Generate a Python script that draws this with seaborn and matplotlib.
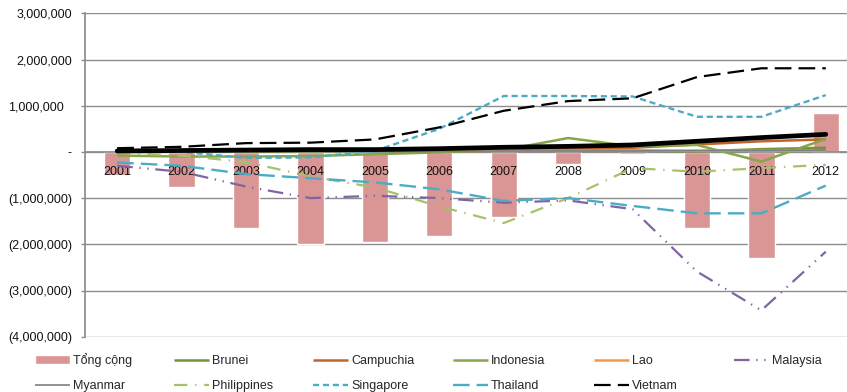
import numpy as np
import pandas as pd
import matplotlib
matplotlib.use("Agg")
import matplotlib.pyplot as plt
import seaborn as sns
from matplotlib.ticker import FixedLocator, FuncFormatter

# ---- data (trade balance by partner, 2001-2012) ----
years = [str(y) for y in range(2001, 2013)]
tong_cong = [-500000, -760000, -1640000, -2000000, -1950000, -1820000,
             -1410000, -260000, -50000, -1650000, -2300000, 840000]
brunei = [10000, 10000, 10000, 10000, 20000, 20000,
          30000, 40000, 30000, 10000, 60000, 90000]
campuchia = [20000, 30000, 30000, 40000, 40000, 50000,
             60000, 70000, 90000, 160000, 230000, 270000]
indonesia = [-80000, -100000, -100000, -90000, -50000, -10000,
             40000, 300000, 120000, 150000, -210000, 280000]
lao = [20000, 20000, 25000, 25000, 25000, 25000,
       25000, 25000, 25000, 25000, 25000, 30000]
malaysia = [-300000, -430000, -750000, -1000000, -950000, -1000000,
            -1100000, -1050000, -1240000, -2590000, -3430000, -2160000]
myanmar = [0, 0, 10000, 10000, 10000, 10000,
           20000, 20000, 20000, 30000, 30000, 40000]
philippines = [-20000, -80000, -220000, -530000, -770000, -1180000,
               -1540000, -1000000, -350000, -430000, -350000, -280000]
singapore = [60000, 0, -130000, -120000, 20000, 500000,
             1210000, 1210000, 1200000, 760000, 760000, 1230000]
thailand = [-230000, -300000, -480000, -570000, -660000, -810000,
            -1060000, -1000000, -1170000, -1330000, -1330000, -730000]
vietnam = [80000, 110000, 190000, 200000, 270000, 530000,
           890000, 1100000, 1160000, 1620000, 1810000, 1810000]
# thick black line without a legend entry
unlabeled = [20000, 30000, 40000, 50000, 50000, 70000,
             100000, 120000, 150000, 230000, 310000, 380000]

# ---- styling ----
sns.set_theme(style="white")
plt.rcParams["font.family"] = ["Liberation Sans", "DejaVu Sans"]
GRID = "#8c8c8c"

series = [
    ("Brunei", brunei, dict(color="#77933C", lw=1.8, ls="-")),
    ("Campuchia", campuchia, dict(color="#C0652D", lw=1.8, ls="-")),
    ("Indonesia", indonesia, dict(color="#86A64A", lw=1.8, ls="-")),
    ("Lao", lao, dict(color="#F79646", lw=1.8, ls="-")),
    ("Malaysia", malaysia, dict(color="#8064A2", lw=1.6, ls=(0, (7, 3, 0.6, 3, 0.6, 3)))),
    ("Myanmar", myanmar, dict(color="#7F7F7F", lw=1.2, ls="-")),
    ("Philippines", philippines, dict(color="#A5C26A", lw=1.6, ls=(0, (6, 3.5, 0.6, 3.5)))),
    ("Singapore", singapore, dict(color="#4BACC6", lw=1.7, ls=(0, (2.6, 1.6)))),
    ("Thailand", thailand, dict(color="#4BACC6", lw=1.7, ls=(0, (7, 3)))),
    ("Vietnam", vietnam, dict(color="#000000", lw=1.6, ls=(0, (7.5, 3.2)))),
    ("_nolegend_", unlabeled, dict(color="#000000", lw=3.4, ls="-")),
]

fig = plt.figure(figsize=(8.47, 3.92), dpi=100)
ax = fig.add_axes([85 / 847, 55.3 / 392, (858 - 85) / 847, (378.7 - 55.3) / 392])

df_bar = pd.DataFrame({"year": years, "value": tong_cong})
sns.barplot(data=df_bar, x="year", y="value", color="#D99694", saturation=1,
            width=0.41, errorbar=None, ax=ax, label="Tổng cộng", zorder=1)

pos = np.arange(len(years))
for name, vals, st in series:
    sns.lineplot(x=pos, y=vals, ax=ax, label=name, color=st["color"],
                 linewidth=st["lw"], linestyle=st["ls"], errorbar=None,
                 legend=False, zorder=3,
                 solid_capstyle="round" if name == "_nolegend_" else "butt",
                 dash_capstyle="butt")

if ax.get_legend() is not None:
    ax.get_legend().remove()

ax.set_xlim(-0.5, len(years) - 0.5)
ax.set_ylim(-4000000, 3000000)
ax.set_xlabel("")
ax.set_ylabel("")


def money(v, _):
    if abs(v) < 1:
        return "-"
    if v < 0:
        return f"({abs(v):,.0f})"
    return f"{v:,.0f}"


ax.yaxis.set_major_locator(FixedLocator(np.arange(-4000000, 3000001, 1000000)))
ax.yaxis.set_major_formatter(FuncFormatter(money))
ax.set_xticks(pos, years)

ax.grid(axis="y", color=GRID, linewidth=1.0)
ax.grid(axis="x", visible=False)
ax.set_axisbelow(True)
ax.xaxis.set_zorder(2.5)

for s in ("top", "right"):
    ax.spines[s].set_visible(False)
ax.spines["left"].set_color(GRID)
ax.spines["bottom"].set_color(GRID)
ax.spines["bottom"].set_position(("data", 0))

ax.tick_params(axis="y", left=True, length=3, width=1, color=GRID, pad=6.5,
               labelsize=9, labelcolor="#111111")
ax.tick_params(axis="x", bottom=False, length=0, pad=10, labelsize=9,
               labelcolor="#111111")
for t in ax.yaxis.get_major_ticks():
    if abs(t.get_loc()) < 1:
        t.set_pad(12.5)

# ---- legend: six columns of up to two entries ----
handles, labels = ax.get_legend_handles_labels()
lookup = dict(zip(labels, handles))
columns = [("Tổng cộng", "Myanmar"), ("Brunei", "Philippines"),
           ("Campuchia", "Singapore"), ("Indonesia", "Thailand"),
           ("Lao", "Vietnam"), ("Malaysia",)]
col_x = [35, 174, 313, 453, 594, 734]
col_top = [353, 355, 355, 355, 355, 355]
for names, x, top in zip(columns, col_x, col_top):
    fig.legend([lookup[n] for n in names], list(names), loc="upper left",
               bbox_to_anchor=(x / 847, 1 - top / 392), frameon=False,
               fontsize=9, handlelength=2.8, handletextpad=0.25,
               labelspacing=1.05, borderpad=0, borderaxespad=0)

fig.savefig("out.png", dpi=100)
